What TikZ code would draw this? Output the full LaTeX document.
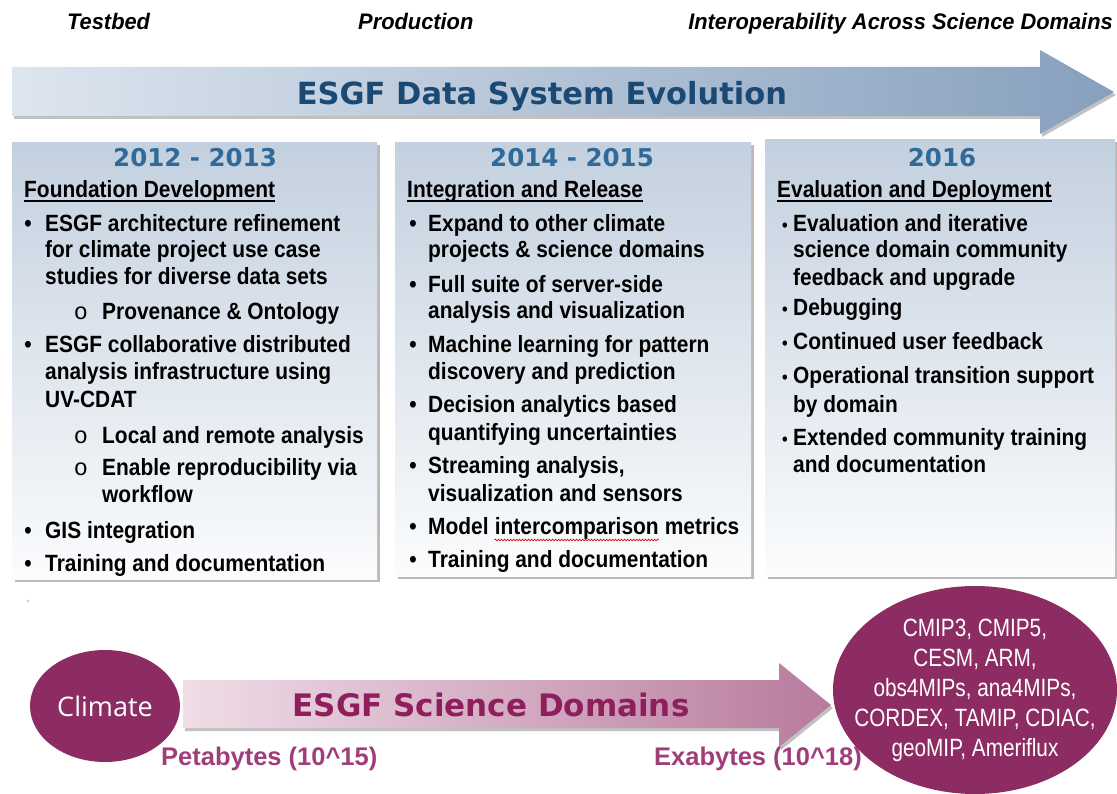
\documentclass[tikz,border=0pt]{standalone}
\usepackage{fontspec}
\setmainfont{Liberation Sans}
\newfontfamily\bodyf[FakeStretch=0.89]{Liberation Sans}
\newfontfamily\narf[FakeStretch=0.83]{Liberation Sans}
\newfontfamily\phasef[FakeStretch=0.97]{Liberation Sans}
\newfontfamily\widef{DejaVu Sans}
\newfontfamily\climf{Open Sans}
\newfontfamily\monof{Liberation Mono}
\usetikzlibrary{shadows,decorations.pathmorphing,shapes.geometric}
\definecolor{arrL}{HTML}{DDE5EE}
\definecolor{arrR}{HTML}{87A0BE}
\definecolor{titleblue}{HTML}{1A4A73}
\definecolor{yearblue}{HTML}{2F6A98}
\definecolor{boxtop}{HTML}{C3D0DF}
\definecolor{boxbot}{HTML}{FBFCFD}
\definecolor{plum}{HTML}{8C2C62}
\definecolor{plumtxt}{HTML}{8E1E5C}
\definecolor{plumlbl}{HTML}{A03E7C}
\definecolor{parL}{HTML}{EFDDE7}
\definecolor{parR}{HTML}{B87B9D}
\newcommand\myitemfont{\bodyf\bfseries\fontsize{23.5}{26}\selectfont}
\newcommand\smallbul{\fontsize{18}{20}\selectfont •}
\tikzset{
  itm/.style={anchor=base west, inner sep=0pt, font=\myitemfont},
  bul/.style={anchor=base, inner sep=0pt, font=\myitemfont},
  sbul/.style={anchor=base, inner sep=0pt, font=\monof\fontsize{23.5}{26}\selectfont},
  hdr/.style={anchor=base west, inner sep=0pt, font=\myitemfont},
  year/.style={anchor=base, inner sep=0pt, text=yearblue, font=\widef\bfseries\fontsize{24.5}{28}\selectfont},
  uline/.style={line width=1.3pt, black},
  phase/.style={anchor=base, inner sep=0pt, font=\phasef\bfseries\itshape\fontsize{22.5}{24}\selectfont},
  panel/.style={draw=none, anchor=north west, inner sep=0pt, top color=boxtop, bottom color=boxbot,
    drop shadow={shadow xshift=3pt, shadow yshift=-3pt, opacity=0.45, fill=black!60}},
  bigarrow/.style={left color=arrL, right color=arrR,
    drop shadow={shadow xshift=2pt, shadow yshift=-3pt, opacity=0.4, fill=black!60}},
  domarrow/.style={left color=parL, right color=parR,
    drop shadow={shadow xshift=2pt, shadow yshift=-3pt, opacity=0.4, fill=black!60}},
  plumlabel/.style={anchor=base west, inner sep=0pt, text=plumlbl, font=\bfseries\fontsize{25.5}{28}\selectfont},
}
\begin{document}
\begin{tikzpicture}[x=1pt,y=-1pt]
\fill[white] (0,0) rectangle (1117,794);
\useasboundingbox (0,0) rectangle (1117,794);

% phase labels
\node[phase, anchor=base west] (ph1) at (67,30) {Testbed};
\node[phase, anchor=base west] (ph2) at (358,30) {Production};
\node[phase, anchor=base east] (ph3) at (1113,30) {Interoperability Across Science Domains};

% top arrow
\path[bigarrow] (12,67) -- (1040,67) -- (1040,50) -- (1114,92) -- (1040,134) -- (1040,116) -- (12,116) -- cycle;
\node[anchor=base, inner sep=0pt, text=titleblue, font=\widef\bfseries\fontsize{30.5}{34}\selectfont] (title) at (542,105) {ESGF Data System Evolution};

% panels
\node[panel, minimum width=365pt, minimum height=437pt] (box1) at (12,142) {};
\node[panel, minimum width=356pt, minimum height=434pt] (box2) at (395,142) {};
\node[panel, minimum width=350pt, minimum height=437pt] (box3) at (765,139) {};

% ---------- box 1
\node[year] (y1) at (195,167) {2012 - 2013};
\node[hdr] (h1) at (24,198) {Foundation Development};
\draw[uline] ([yshift=-3pt]h1.base west) -- ([yshift=-3pt]h1.base east);
\node[bul] (b11) at (28,232) {•};
\node[itm] (t11) at (45,232) {ESGF architecture refinement};
\node[itm] (t12) at (45,258) {for climate project use case};
\node[itm] (t13) at (45,285) {studies for diverse data sets};
\node[sbul] (s11) at (81,320) {o};
\node[itm] (t14) at (102,320) {Provenance \& Ontology};
\node[bul] (b12) at (28,353) {•};
\node[itm] (t15) at (45,353) {ESGF collaborative distributed};
\node[itm] (t16) at (45,380) {analysis infrastructure using};
\node[itm] (t17) at (45,407) {UV-CDAT};
\node[sbul] (s12) at (81,443) {o};
\node[itm] (t18) at (102,443) {Local and remote analysis};
\node[sbul] (s13) at (81,475) {o};
\node[itm] (t19) at (102,475) {Enable reproducibility via};
\node[itm] (t110) at (102,502) {workflow};
\node[bul] (b13) at (28,538) {•};
\node[itm] (t111) at (45,538) {GIS integration};
\node[bul] (b14) at (28,571) {•};
\node[itm] (t112) at (45,571) {Training and documentation};

% ---------- box 2
\node[year] (y2) at (572,167) {2014 - 2015};
\node[hdr] (h2) at (407,198) {Integration and Release};
\draw[uline] ([yshift=-3pt]h2.base west) -- ([yshift=-3pt]h2.base east);
\node[bul] (b21) at (413,232) {•};
\node[itm] (t21) at (428,232) {Expand to other climate};
\node[itm] (t22) at (428,258) {projects \& science domains};
\node[bul] (b22) at (413,293) {•};
\node[itm] (t23) at (428,293) {Full suite of server-side};
\node[itm] (t24) at (428,319) {analysis and visualization};
\node[bul] (b23) at (413,353) {•};
\node[itm] (t25) at (428,353) {Machine learning for pattern};
\node[itm] (t26) at (428,380) {discovery and prediction};
\node[bul] (b24) at (413,413) {•};
\node[itm] (t27) at (428,413) {Decision analytics based};
\node[itm] (t28) at (428,440) {quantifying uncertainties};
\node[bul] (b25) at (413,473) {•};
\node[itm] (t29) at (428,473) {Streaming analysis,};
\node[itm] (t210) at (428,501) {visualization and sensors};
\node[bul] (b26) at (413,534) {•};
\node[itm] (t211a) at (428,534) {Model};
\node[itm] (t211b) at ([xshift=5.8pt]t211a.base east) {intercomparison};
\node[itm] (t211c) at ([xshift=5.8pt]t211b.base east) {metrics};
\draw[red!80!black, line width=0.6pt, decorate, decoration={snake, amplitude=0.9pt, segment length=3pt}]
  ([yshift=-6pt]t211b.base west) -- ([yshift=-6pt]t211b.base east);
\node[bul] (b27) at (413,567) {•};
\node[itm] (t212) at (428,567) {Training and documentation};

% ---------- box 3
\node[year] (y3) at (942,167) {2016};
\node[hdr] (h3) at (777,198) {Evaluation and Deployment};
\draw[uline] ([yshift=-3pt]h3.base west) -- ([yshift=-3pt]h3.base east);
\node[bul] (b31) at (785,232) {\smallbul};
\node[itm] (t31) at (793,232) {Evaluation and iterative};
\node[itm] (t32) at (793,258) {science domain community};
\node[itm] (t33) at (793,286) {feedback and upgrade};
\node[bul] (b32) at (785,316) {\smallbul};
\node[itm] (t34) at (793,316) {Debugging};
\node[bul] (b33) at (785,350) {\smallbul};
\node[itm] (t35) at (793,350) {Continued user feedback};
\node[bul] (b34) at (785,384) {\smallbul};
\node[itm] (t36) at (793,384) {Operational transition support};
\node[itm] (t37) at (793,412) {by domain};
\node[bul] (b35) at (785,445) {\smallbul};
\node[itm] (t38) at (793,445) {Extended community training};
\node[itm] (t39) at (793,472) {and documentation};

% stray dot
\node[circle, fill=gray!35, inner sep=1.2pt] (stray) at (28,601) {};

% ---------- bottom
\path[domarrow] (183,680) -- (779,680) -- (779,663) -- (831,705) -- (779,747) -- (779,728) -- (183,728) -- cycle;
\node[anchor=base, inner sep=0pt, text=plumtxt, font=\widef\bfseries\fontsize{31}{34}\selectfont] (dom) at (491,716) {ESGF Science Domains};
\node[ellipse, fill=plum, minimum width=150pt, minimum height=112pt, inner sep=0pt, text=white,
  font=\climf\fontsize{27}{30}\selectfont] (climate) at (105,706) {Climate};
\node[plumlabel] (peta) at (161,765) {Petabytes (10\textasciicircum 15)};
\node[plumlabel] (exa) at (654,765) {Exabytes (10\textasciicircum 18)};
\node[ellipse, fill=plum, minimum width=284pt, minimum height=208pt, inner sep=0pt] (projects) at (975,690) {};
\node[inner sep=0pt, text=white, align=center, font=\narf\fontsize{25}{30}\selectfont] (projtext) at (projects.center)
  {CMIP3, CMIP5,\\CESM, ARM,\\obs4MIPs, ana4MIPs,\\CORDEX, TAMIP, CDIAC,\\geoMIP, Ameriflux};
\end{tikzpicture}
\end{document}
